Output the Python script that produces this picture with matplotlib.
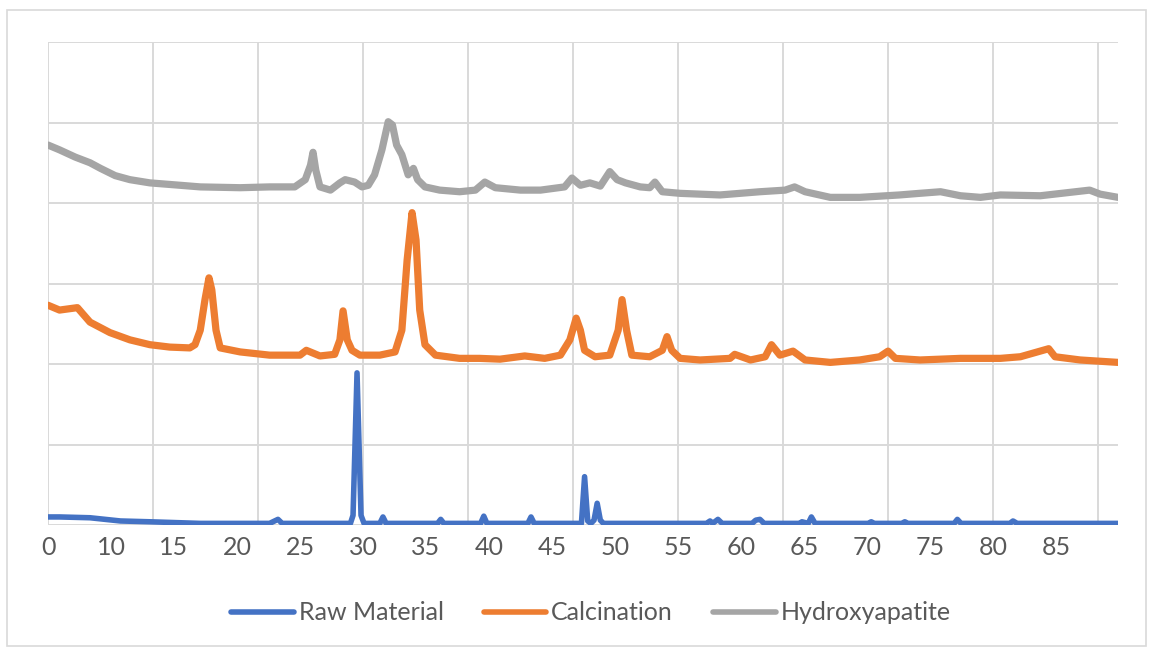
import numpy as np
import matplotlib
matplotlib.use("Agg")
import matplotlib.pyplot as plt
from matplotlib.patches import Rectangle

# category labels shown on the x axis (one every 6 positions)
tick_labels = ['0', '10', '15', '20', '25', '30', '35', '40', '45', '50',
               '55', '60', '65', '70', '75', '80', '85']

raw_x = [0, 1.1, 4.0, 6.9, 9.7, 14.5, 21.1, 21.9, 22.3, 28.8, 29.05, 29.43, 29.81, 30.1,
         31.6, 31.9, 32.2, 37.1, 37.4, 37.7, 41.2, 41.5, 41.8, 45.7, 46.0, 46.3,
         50.8, 51.1, 51.4, 51.7, 52.0, 52.3, 52.6, 52.9, 62.7, 63.05, 63.3, 63.8, 64.2,
         67.05, 67.4, 67.8, 68.2, 71.6, 71.8, 72.4, 72.7, 73.05, 78.1, 78.4, 78.7,
         81.3, 81.6, 81.9, 86.3, 86.6, 86.95, 91.6, 91.9, 92.3, 101.9]
raw_y = [0.10, 0.10, 0.09, 0.05, 0.04, 0.02, 0.02, 0.07, 0.02, 0.02, 0.12, 1.89, 0.12, 0.02,
         0.02, 0.10, 0.02, 0.02, 0.07, 0.02, 0.02, 0.11, 0.02, 0.02, 0.10, 0.02,
         0.02, 0.60, 0.05, 0.02, 0.06, 0.27, 0.06, 0.02, 0.02, 0.05, 0.02, 0.07, 0.02,
         0.02, 0.06, 0.07, 0.02, 0.02, 0.04, 0.02, 0.10, 0.02, 0.02, 0.04, 0.02,
         0.02, 0.04, 0.02, 0.02, 0.07, 0.02, 0.02, 0.05, 0.02, 0.02]

calc_x = [0, 1.1, 2.8, 4.0, 5.9, 7.8, 9.7, 11.6, 13.5, 14.0, 14.5, 14.95, 15.33, 15.6, 16.0,
          16.4, 18.3, 21.1, 24.0, 24.6, 25.9, 27.3, 27.8, 28.1, 28.5, 28.95, 29.7, 31.6,
          33.05, 33.7, 34.2, 34.67, 35.05, 35.4, 35.9, 36.9, 39.2, 41.1, 43.05, 45.4,
          47.3, 48.8, 49.7, 50.3, 50.7, 51.1, 52.1, 53.5, 54.3, 54.67, 55.1, 55.6,
          57.3, 58.5, 58.95, 59.4, 60.2, 62.1, 64.95, 65.4, 66.9, 68.3, 68.9, 69.7,
          70.95, 72.1, 74.5, 77.3, 79.2, 80.0, 80.7, 83.05, 86.9, 90.7, 92.6, 95.3,
          95.9, 98.3, 101.9]
calc_y = [2.73, 2.67, 2.70, 2.52, 2.39, 2.30, 2.24, 2.21, 2.20, 2.24, 2.42, 2.80, 3.07, 2.92, 2.42,
          2.20, 2.15, 2.11, 2.11, 2.17, 2.10, 2.12, 2.30, 2.66, 2.30, 2.17, 2.11, 2.11,
          2.15, 2.42, 3.29, 3.88, 3.54, 2.67, 2.24, 2.11, 2.07, 2.07, 2.06, 2.10,
          2.07, 2.11, 2.30, 2.57, 2.42, 2.17, 2.09, 2.11, 2.42, 2.80, 2.42, 2.11,
          2.09, 2.17, 2.34, 2.17, 2.07, 2.05, 2.07, 2.12, 2.05, 2.09, 2.24, 2.11,
          2.16, 2.05, 2.02, 2.05, 2.09, 2.16, 2.07, 2.05, 2.07, 2.07, 2.09, 2.19,
          2.09, 2.05, 2.02]

hap_x = [0, 1.1, 2.6, 4.0, 5.0, 6.4, 7.8, 9.7, 12.6, 14.5, 18.3, 21.1, 23.5, 24.5, 25.0,
         25.24, 25.5, 25.9, 26.9, 27.8, 28.3, 29.2, 29.9, 30.5, 31.1, 31.8, 32.4, 32.8,
         33.2, 33.7, 34.3, 34.8, 35.2, 35.9, 37.3, 39.2, 40.7, 41.6, 42.6, 45.0, 46.9,
         49.2, 49.9, 50.7, 51.6, 52.6, 53.5, 54.2, 55.0, 56.4, 57.3, 57.8, 58.5, 60.2,
         64.0, 65.9, 67.8, 70.2, 71.1, 72.1, 74.5, 77.3, 81.1, 83.0, 85.0, 86.9, 88.8,
         90.7, 94.5, 99.2, 100.2, 101.9]
hap_y = [4.72, 4.66, 4.57, 4.50, 4.43, 4.34, 4.29, 4.25, 4.22, 4.20, 4.19, 4.20, 4.20, 4.29, 4.47,
         4.63, 4.41, 4.20, 4.16, 4.25, 4.29, 4.26, 4.20, 4.22, 4.35, 4.66, 5.01, 4.97,
         4.72, 4.60, 4.35, 4.43, 4.29, 4.20, 4.16, 4.14, 4.16, 4.26, 4.19, 4.16, 4.16,
         4.20, 4.31, 4.22, 4.25, 4.21, 4.39, 4.29, 4.25, 4.20, 4.19, 4.26, 4.14, 4.12,
         4.10, 4.12, 4.14, 4.16, 4.20, 4.14, 4.07, 4.07, 4.10, 4.12, 4.14, 4.09, 4.07,
         4.10, 4.09, 4.16, 4.11, 4.07]

FONT = ['Lato', 'DejaVu Sans']
TEXT_COLOR = '#595959'
GRID_COLOR = '#d9d9d9'


def drawChart():
    fig = plt.figure(figsize=(11.54, 6.52), dpi=100)
    ax = fig.add_axes([48 / 1154, 127 / 652, 1070 / 1154, 483 / 652])

    ax.plot(raw_x, raw_y, color='#4472C4', lw=4.0, label='Raw Material',
            solid_joinstyle='round', solid_capstyle='round', zorder=3)
    ax.plot(calc_x, calc_y, color='#ED7D31', lw=5.2, label='Calcination',
            solid_joinstyle='round', solid_capstyle='round', zorder=4)
    ax.plot(hap_x, hap_y, color='#A5A5A5', lw=5.2, label='Hydroxyapatite',
            solid_joinstyle='round', solid_capstyle='round', zorder=5)

    ax.set_xlim(0, 101.9)
    ax.set_ylim(0, 6)

    # gridlines on major ticks, category labels on minor ticks
    ax.xaxis.remove_overlapping_locs = False
    ax.set_xticks(np.arange(0, 101, 10))
    ax.set_xticklabels([])
    ax.set_yticks(np.arange(0, 7, 1))
    ax.set_yticklabels([])
    ax.set_xticks(np.arange(0, 97, 6), minor=True)
    ax.set_xticklabels(tick_labels, minor=True, fontfamily=FONT, fontsize=18, color=TEXT_COLOR)
    ax.tick_params(axis='both', which='both', length=0)
    ax.tick_params(axis='x', which='minor', pad=8)
    ax.grid(True, which='major', color=GRID_COLOR, lw=1.4)
    ax.set_axisbelow(True)
    for s in ax.spines.values():
        s.set_visible(False)

    leg = fig.legend(loc='center', bbox_to_anchor=(591 / 1154, 1 - 613 / 652), ncol=3,
                     frameon=False, handlelength=2.5, handletextpad=0.2, columnspacing=1.6,
                     prop={'family': FONT, 'size': 18})
    for t in leg.get_texts():
        t.set_color(TEXT_COLOR)
    for h in leg.legend_handles:
        h.set_linewidth(4)

    fig.patches.append(Rectangle((7 / 1154, 6 / 652), 1139 / 1154, 636 / 652,
                                 transform=fig.transFigure, fill=False,
                                 edgecolor=GRID_COLOR, lw=1.2))

    fig.savefig('out.png', dpi=100)


def main():
    drawChart()


if __name__ == "__main__":
    main()
